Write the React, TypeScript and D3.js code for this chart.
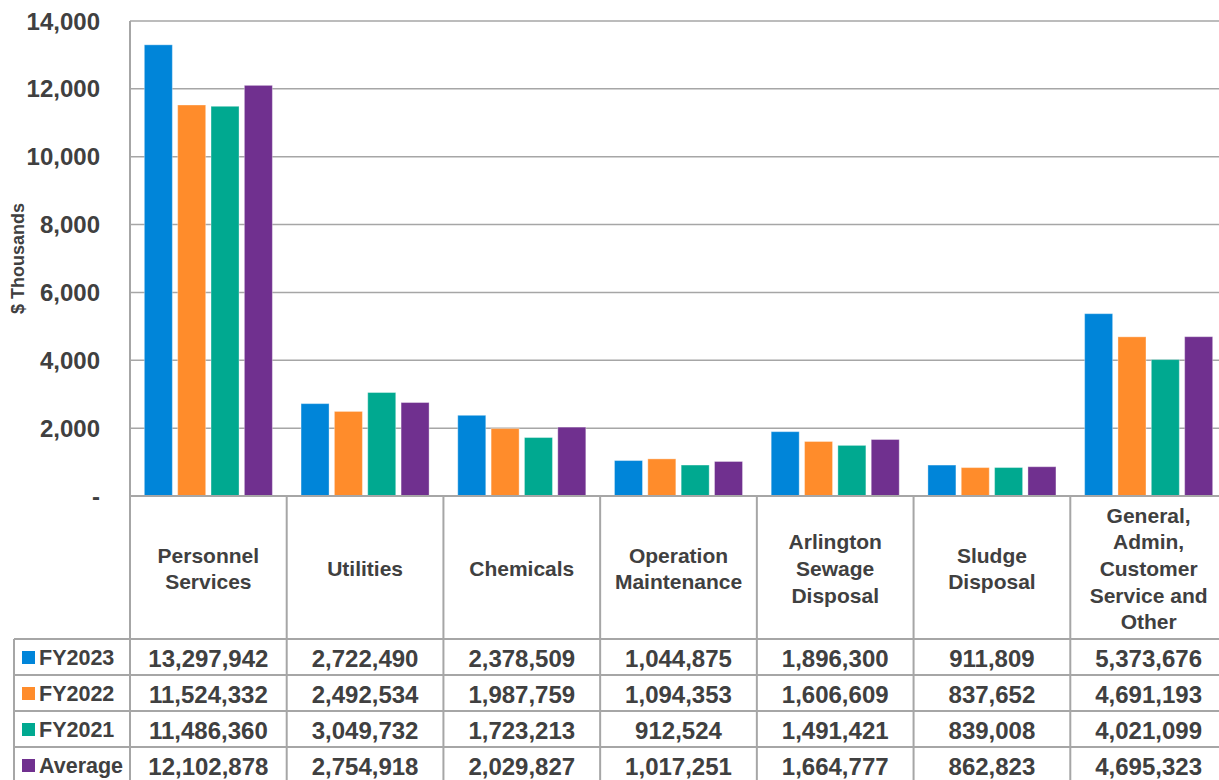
import React from "react";
import * as d3 from "d3";

const WIDTH = 1219;
const HEIGHT = 780;

const categories = [
  "Personnel Services",
  "Utilities",
  "Chemicals",
  "Operation Maintenance",
  "Arlington Sewage Disposal",
  "Sludge Disposal",
  "General, Admin, Customer Service and Other",
];
const categoryLines = [
  ["Personnel", "Services"],
  ["Utilities"],
  ["Chemicals"],
  ["Operation", "Maintenance"],
  ["Arlington", "Sewage", "Disposal"],
  ["Sludge", "Disposal"],
  ["General,", "Admin,", "Customer", "Service and", "Other"],
];

const seriesNames = ["FY2023", "FY2022", "FY2021", "Average"];
const seriesColors = ["#0085D9", "#FF8C2B", "#00A990", "#70308F"];

const fy2023 = [13297942, 2722490, 2378509, 1044875, 1896300, 911809, 5373676];
const fy2022 = [11524332, 2492534, 1987759, 1094353, 1606609, 837652, 4691193];
const fy2021 = [11486360, 3049732, 1723213, 912524, 1491421, 839008, 4021099];
const average = [12102878, 2754918, 2029827, 1017251, 1664777, 862823, 4695323];
const seriesValues = [fy2023, fy2022, fy2021, average];

const yTicks = [0, 2000, 4000, 6000, 8000, 10000, 12000, 14000];

const PLOT = { left: 130, right: 1227, top: 21, bottom: 496 };
const TABLE = { left: 14, headerBottom: 639, rowH: 36 };
const GRID = "#A6A6A6";
const TEXT = "#404040";
const FONT = "'Liberation Sans', Arial, sans-serif";

export default function App() {
  const yScale = d3.scaleLinear().domain([0, 14000]).range([PLOT.bottom, PLOT.top]);
  const x0 = d3.scaleBand<string>().domain(categories).range([PLOT.left, PLOT.right]);
  const x1 = d3
    .scaleBand<string>()
    .domain(seriesNames)
    .range([0, x0.bandwidth()])
    .paddingInner(0.16)
    .paddingOuter(0.43);
  const fmt = d3.format(",");
  const tableBottom = TABLE.headerBottom + TABLE.rowH * seriesNames.length;

  return (
    <svg
      width={WIDTH}
      height={HEIGHT}
      style={{ position: "absolute", left: 0, top: 0, background: "#fff" }}
      fontFamily={FONT}
    >
      {/* gridlines */}
      {yTicks.slice(1).map((t) => (
        <line key={t} x1={PLOT.left} x2={WIDTH} y1={yScale(t)} y2={yScale(t)} stroke={GRID} strokeWidth={1.5} />
      ))}
      {/* y tick labels */}
      {yTicks.map((t) => (
        <text
          key={t}
          x={100}
          y={yScale(t)}
          textAnchor="end"
          dominantBaseline="central"
          fontSize={24}
          fontWeight="bold"
          fill={TEXT}
        >
          {t === 0 ? "-" : fmt(t)}
        </text>
      ))}
      <text
        transform={`translate(24,${(PLOT.top + PLOT.bottom) / 2}) rotate(-90)`}
        textAnchor="middle"
        fontSize={18}
        fontWeight="bold"
        fill={TEXT}
      >
        $ Thousands
      </text>

      {/* bars */}
      {categories.map((c, i) => (
        <g key={c} transform={`translate(${x0(c)},0)`}>
          {seriesNames.map((s, j) => {
            const v = seriesValues[j][i] / 1000;
            return (
              <rect
                key={s}
                x={x1(s)}
                y={yScale(v)}
                width={x1.bandwidth()}
                height={yScale(0) - yScale(v)}
                fill={seriesColors[j]}
                stroke="#ffffff"
                strokeOpacity={0.35}
                strokeWidth={1}
              />
            );
          })}
        </g>
      ))}

      {/* axis lines */}
      <line x1={PLOT.left} x2={WIDTH} y1={PLOT.bottom} y2={PLOT.bottom} stroke={GRID} strokeWidth={2} />
      <line x1={PLOT.left} x2={PLOT.left} y1={PLOT.top} y2={HEIGHT} stroke={GRID} strokeWidth={2} />

      {/* data table: category header cells */}
      {categories.map((c, i) => {
        const cx = (x0(c) as number) + x0.bandwidth() / 2;
        const lines = categoryLines[i];
        const lh = 26.7;
        const cy = (PLOT.bottom + TABLE.headerBottom) / 2 + 1;
        return (
          <g key={c}>
            {i > 0 && (
              <line x1={x0(c)} x2={x0(c)} y1={PLOT.bottom} y2={HEIGHT} stroke={GRID} strokeWidth={2} />
            )}
            {lines.map((l, k) => (
              <text
                key={k}
                x={cx}
                y={cy + (k - (lines.length - 1) / 2) * lh}
                textAnchor="middle"
                dominantBaseline="central"
                fontSize={21}
                fontWeight="bold"
                fill={TEXT}
              >
                {l}
              </text>
            ))}
          </g>
        );
      })}

      {/* table rows */}
      <line x1={TABLE.left} x2={TABLE.left} y1={TABLE.headerBottom} y2={HEIGHT} stroke={GRID} strokeWidth={2} />
      {seriesNames.map((s, j) => {
        const top = TABLE.headerBottom + j * TABLE.rowH;
        const cy = top + TABLE.rowH / 2 + 1;
        return (
          <g key={s}>
            <line x1={TABLE.left} x2={WIDTH} y1={top} y2={top} stroke={GRID} strokeWidth={2} />
            <rect x={22} y={cy - 7} width={13} height={13} fill={seriesColors[j]} />
            <text x={39} y={cy} dominantBaseline="central" fontSize={21.5} fontWeight="bold" fill={TEXT}>
              {s}
            </text>
            {categories.map((c, i) => (
              <text
                key={c}
                x={(x0(c) as number) + x0.bandwidth() / 2}
                y={cy}
                textAnchor="middle"
                dominantBaseline="central"
                fontSize={24}
                fontWeight="bold"
                fill={TEXT}
              >
                {fmt(seriesValues[j][i])}
              </text>
            ))}
          </g>
        );
      })}
      {tableBottom < HEIGHT && (
        <line x1={TABLE.left} x2={WIDTH} y1={tableBottom} y2={tableBottom} stroke={GRID} strokeWidth={2} />
      )}
    </svg>
  );
}
